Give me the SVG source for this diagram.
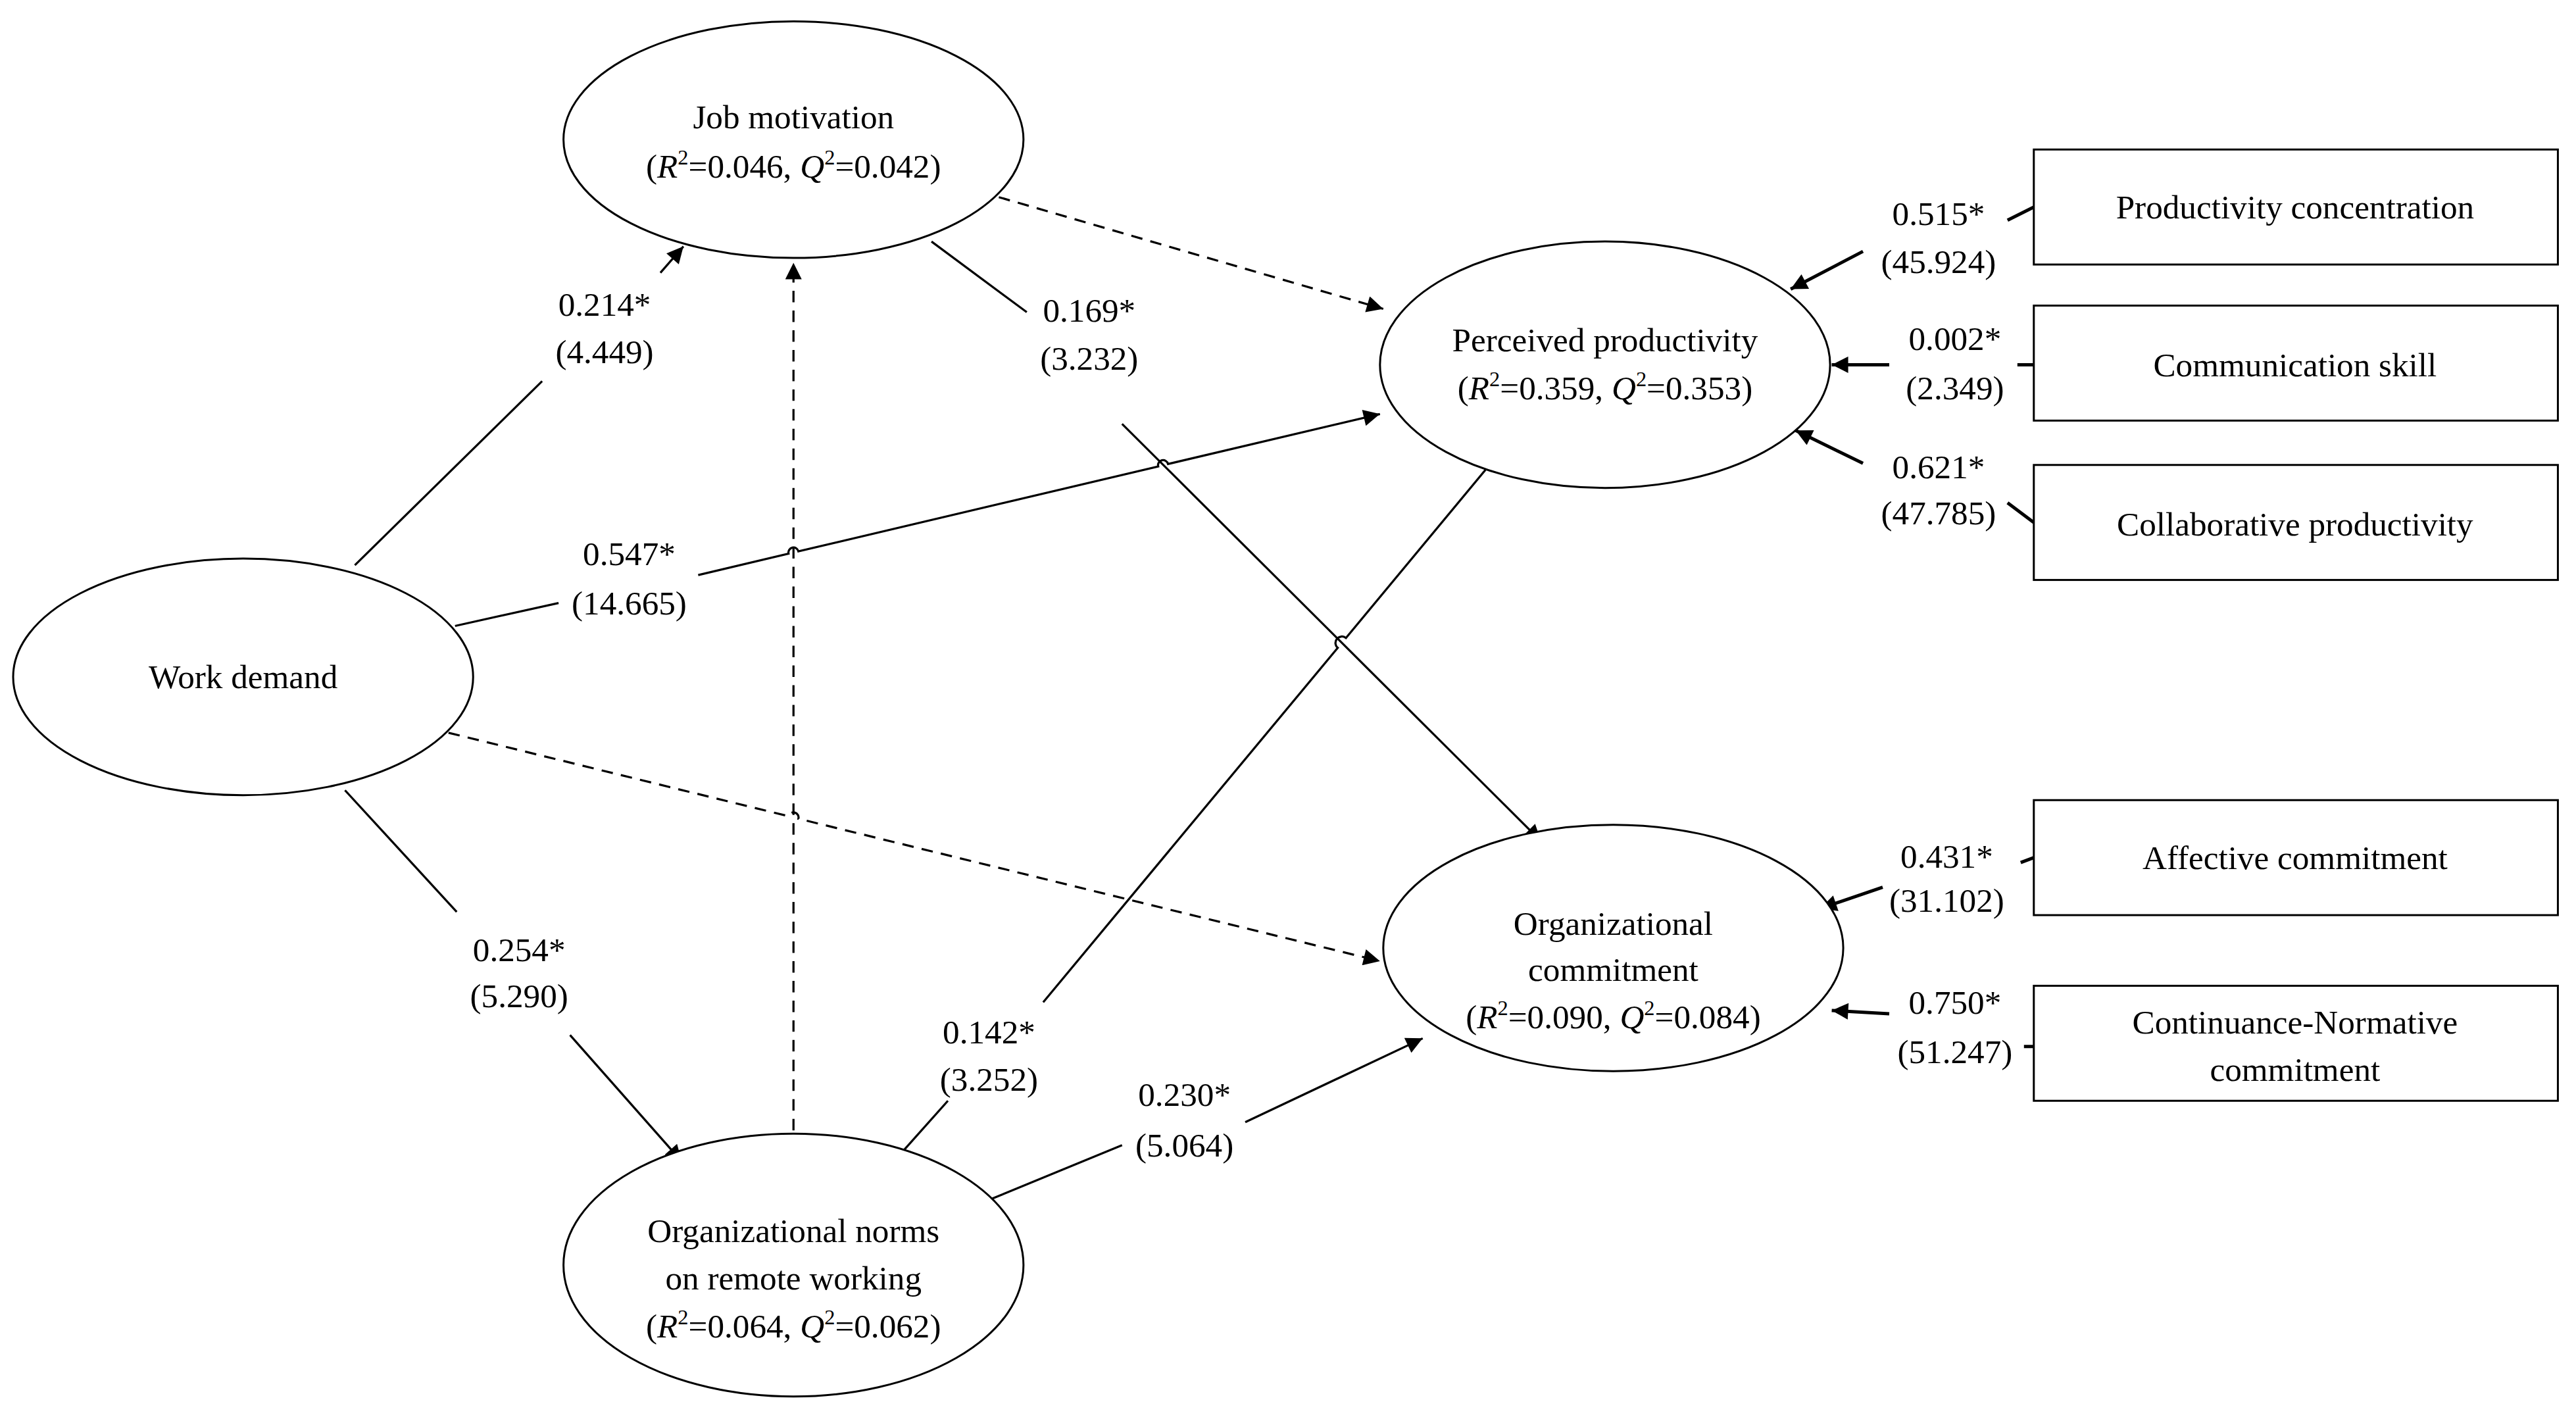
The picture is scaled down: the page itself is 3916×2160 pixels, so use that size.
<svg xmlns="http://www.w3.org/2000/svg" width="3916" height="2160" viewBox="0 0 3916 2160">
<style>
text{font-family:"Liberation Serif","Times New Roman",serif;font-size:20.5px;fill:#000;text-anchor:middle}
.n{fill:#fff;stroke:#000;stroke-width:1.2}
.c{fill:none;stroke:#000;stroke-width:1.3}
.d{stroke-dasharray:7,5}
.t{stroke-width:2}
.i{font-style:italic}
.s{font-size:13px}
</style>
<defs>
<marker id="a" viewBox="0 0 10 10" refX="10" refY="5" markerWidth="12" markerHeight="10" markerUnits="userSpaceOnUse" orient="auto"><path d="M0,0L10,5L0,10z" fill="#000"/></marker>
</defs>
<rect width="3916" height="2160" fill="#fff"/>
<g transform="scale(2.4974)">
<g id="connectors">
<path class="c" d="M216,344L330,232M402,166L416,150" marker-end="url(#a)"/>
<path class="c" d="M277,381L340,367M425,350L480,337A3,3 0 0 1 486,335.6L705,283.9A3,3 0 0 1 711,282.4L840,252" marker-end="url(#a)"/>
<path class="c d" d="M273,446L480,496.8A3,3 0 0 1 486,498.3L840,585" marker-end="url(#a)"/>
<path class="c" d="M210,481L278,555M347,630L415,707" marker-end="url(#a)"/>
<path class="c d" d="M483,700L483,160" marker-end="url(#a)"/>
<path class="c d" d="M608,120L842,188" marker-end="url(#a)"/>
<path class="c" d="M567,147L625,190M683,258L938,512" marker-end="url(#a)"/>
<path class="c" d="M544,707L577,670M635,610L814.3,394.3A3.9,3.9 0 0 1 819.3,388.3L915,273" marker-end="url(#a)"/>
<path class="c" d="M598,732L683,697M758,683L866,632" marker-end="url(#a)"/>
<path class="c t" d="M1238,126L1222,134M1134,153L1090,176" marker-end="url(#a)"/>
<path class="c t" d="M1238,222L1228,222M1150,222L1115,222" marker-end="url(#a)"/>
<path class="c t" d="M1238,318L1222,306M1134,282L1093,262" marker-end="url(#a)"/>
<path class="c t" d="M1238,522L1230,525M1146,540L1108,553" marker-end="url(#a)"/>
<path class="c t" d="M1238,637L1232,637M1150,617L1115,615" marker-end="url(#a)"/>
</g>
<g id="labels">
<text x="368" y="192">0.214*</text><text x="368" y="221">(4.449)</text>
<text x="383" y="344">0.547*</text><text x="383" y="374">(14.665)</text>
<text x="316" y="585">0.254*</text><text x="316" y="613">(5.290)</text>
<text x="663" y="196">0.169*</text><text x="663" y="225">(3.232)</text>
<text x="602" y="635">0.142*</text><text x="602" y="664">(3.252)</text>
<text x="721" y="673">0.230*</text><text x="721" y="704">(5.064)</text>
<text x="1180" y="137">0.515*</text><text x="1180" y="166">(45.924)</text>
<text x="1190" y="213">0.002*</text><text x="1190" y="243">(2.349)</text>
<text x="1180" y="291">0.621*</text><text x="1180" y="319">(47.785)</text>
<text x="1185" y="528">0.431*</text><text x="1185" y="555">(31.102)</text>
<text x="1190" y="617">0.750*</text><text x="1190" y="647">(51.247)</text>
</g>
<g id="jm"><ellipse class="n" cx="483" cy="85" rx="140" ry="72"/><text x="483" y="78">Job motivation</text><text x="483" y="108">(<tspan class="i">R</tspan><tspan class="s" dy="-8">2</tspan><tspan dy="8">=0.046, </tspan><tspan class="i">Q</tspan><tspan class="s" dy="-8">2</tspan><tspan dy="8">=0.042)</tspan></text></g>
<g id="wd"><ellipse class="n" cx="148" cy="412" rx="140" ry="72"/><text x="148" y="419">Work demand</text></g>
<g id="on"><ellipse class="n" cx="483" cy="770" rx="140" ry="80"/><text x="483" y="756">Organizational norms</text><text x="483" y="785">on remote working</text><text x="483" y="814">(<tspan class="i">R</tspan><tspan class="s" dy="-8">2</tspan><tspan dy="8">=0.064, </tspan><tspan class="i">Q</tspan><tspan class="s" dy="-8">2</tspan><tspan dy="8">=0.062)</tspan></text></g>
<g id="pp"><ellipse class="n" cx="977" cy="222" rx="137" ry="75"/><text x="977" y="214">Perceived productivity</text><text x="977" y="243">(<tspan class="i">R</tspan><tspan class="s" dy="-8">2</tspan><tspan dy="8">=0.359, </tspan><tspan class="i">Q</tspan><tspan class="s" dy="-8">2</tspan><tspan dy="8">=0.353)</tspan></text></g>
<g id="oc"><ellipse class="n" cx="982" cy="577" rx="140" ry="75"/><text x="982" y="569">Organizational</text><text x="982" y="597">commitment</text><text x="982" y="626">(<tspan class="i">R</tspan><tspan class="s" dy="-8">2</tspan><tspan dy="8">=0.090, </tspan><tspan class="i">Q</tspan><tspan class="s" dy="-8">2</tspan><tspan dy="8">=0.084)</tspan></text></g>
<g id="b1"><rect class="n" x="1238" y="91" width="319" height="70"/><text x="1397" y="133">Productivity concentration</text></g>
<g id="b2"><rect class="n" x="1238" y="186" width="319" height="70"/><text x="1397" y="229">Communication skill</text></g>
<g id="b3"><rect class="n" x="1238" y="283" width="319" height="70"/><text x="1397" y="326">Collaborative productivity</text></g>
<g id="b4"><rect class="n" x="1238" y="487" width="319" height="70"/><text x="1397" y="529">Affective commitment</text></g>
<g id="b5"><rect class="n" x="1238" y="600" width="319" height="70"/><text x="1397" y="629">Continuance-Normative</text><text x="1397" y="658">commitment</text></g>
</g>
</svg>
